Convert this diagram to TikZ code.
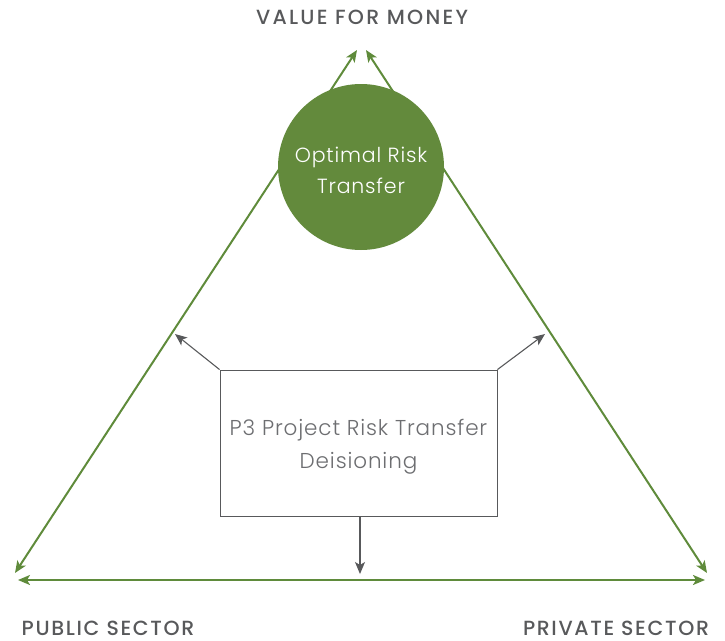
\documentclass[tikz,border=0pt]{standalone}
\usepackage{fontspec}
\setmainfont{Poppins}
\newfontfamily\lightfont{Poppins Light}[LetterSpace=4]
\newfontfamily\headfont{Poppins Medium}[LetterSpace=8]
\usetikzlibrary{arrows.meta}
\definecolor{leaf}{HTML}{5F8B3B}
\definecolor{leaffill}{HTML}{638A3C}
\definecolor{slate}{HTML}{58595B}
\definecolor{softgray}{HTML}{6D6E71}
\tikzset{
  greenline/.style={draw=leaf, line width=2pt, {Stealth[length=12pt,width=10pt,inset=3pt]}-{Stealth[length=12pt,width=10pt,inset=3pt]}},
  grayarrow/.style={draw=slate, line width=1.1pt, -{Stealth[length=12pt,width=10pt,inset=3pt]}},
  cornerlabel/.style={text=slate, font=\headfont\fontsize{20.5}{22}\selectfont, inner sep=0pt, anchor=base},
  riskcircle/.style={circle, fill=leaffill, minimum size=166pt, inner sep=0pt},
  circletext/.style={text=white, align=center, font=\lightfont\fontsize{20.5}{31}\selectfont},
  deskbox/.style={draw=slate, line width=0.9pt, fill=white, minimum width=277pt, minimum height=146pt},
  desktext/.style={text=softgray, align=center, font=\lightfont\fontsize{21.5}{33}\selectfont},
}
\begin{document}
\begin{tikzpicture}[x=1pt,y=-1pt]
\useasboundingbox (0,0) rectangle (725,640);
% corner points of the triangle
\coordinate (topL) at (357,50);
\coordinate (topR) at (366,50);
\coordinate (botL) at (15,573);
\coordinate (botR) at (707,573);
\coordinate (baseL) at (18,580);
\coordinate (baseR) at (705,580);
% triangle sides
\draw[greenline] (topL) -- (botL);
\draw[greenline] (topR) -- (botR);
\draw[greenline] (baseL) -- (baseR);
% central risk circle
\node[riskcircle] (risk) at (361,167) {};
\node[circletext] (risktext) at (361,170) {Optimal Risk\\Transfer};
% decision box and its arrows
\node[deskbox] (desk) at (358.5,443) {};
\node[desktext] (desklabel) at (358.5,447) {P3 Project Risk Transfer\\Deisioning};
\coordinate (tipL) at (175,334);
\coordinate (tipR) at (545,334);
\coordinate (tipB) at (360,574);
\draw[grayarrow] (desk.north west) -- (tipL);
\draw[grayarrow] (desk.north east) -- (tipR);
\draw[grayarrow] (desk.south -| tipB) -- (tipB);
% labels
\node[cornerlabel] (vfm) at (362,24) {\addfontfeature{LetterSpace=11}VALUE FOR MONEY};
\node[cornerlabel] (pub) at (108,635) {PUBLIC SECTOR};
\node[cornerlabel] (priv) at (616,635) {PRIVATE SECTOR};
\end{tikzpicture}
\end{document}
